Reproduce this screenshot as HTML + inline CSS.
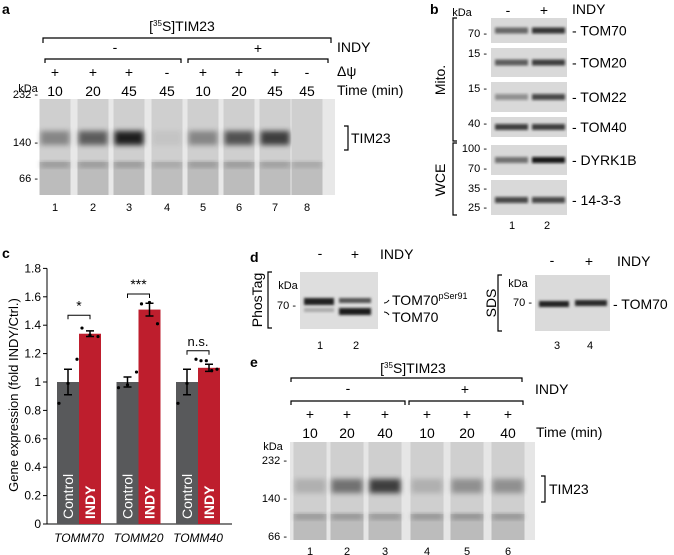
<!DOCTYPE html>
<html><head><meta charset="utf-8"><style>
html,body{margin:0;padding:0;background:#fff;}
svg{display:block;font-family:"Liberation Sans",Arial,sans-serif;}
</style></head><body>
<svg id="fig" width="674" height="555" viewBox="0 0 674 555">
<defs>
<filter id="bl" x="-20%" y="-50%" width="140%" height="200%"><feGaussianBlur stdDeviation="2.6"/></filter>
<filter id="bl2" x="-20%" y="-50%" width="140%" height="200%"><feGaussianBlur stdDeviation="1.3"/></filter>
</defs>
<g id="panelA">
<text x="2" y="14" font-weight="bold" font-size="14">a</text>
<text x="182" y="31" text-anchor="middle" font-size="14">[<tspan font-size="8" dy="-5">35</tspan><tspan dy="5">S]TIM23</tspan></text>
<path d="M43,43 V38 H331 V43" fill="none" stroke="#000" stroke-width="1.2"/>
<path d="M45,63 V59 H181 V63 M188,63 V59 H328 V63" fill="none" stroke="#000" stroke-width="1.2"/>
<text x="115" y="52" text-anchor="middle" font-size="14">-</text>
<text x="258" y="53" text-anchor="middle" font-size="14">+</text>
<text x="337" y="52" font-size="14">INDY</text>
<text x="337" y="76" font-size="14">Δψ</text>
<text x="337" y="95" font-size="14">Time (min)</text>
<g id="aTop" font-size="14" text-anchor="middle"></g>
<text x="28" y="92" text-anchor="middle" font-size="11">kDa</text>
<text x="38" y="98" text-anchor="end" font-size="11">232 -</text>
<text x="38" y="146" text-anchor="end" font-size="11">140 -</text>
<text x="38" y="182" text-anchor="end" font-size="11">66 -</text>
<rect x="42" y="99" width="293" height="96" fill="#e8e8e8"/>
<g id="aGel"></g>
<path d="M344,126 H348 V150 H344" fill="none" stroke="#000" stroke-width="1.2"/>
<text x="351" y="143" font-size="14">TIM23</text>
</g>
<g id="panelB">
<text x="430" y="14" font-weight="bold" font-size="14">b</text>
<text x="462" y="16" text-anchor="middle" font-size="11">kDa</text>
<text x="508" y="15" text-anchor="middle" font-size="14">-</text>
<text x="544" y="15" text-anchor="middle" font-size="14">+</text>
<text x="572" y="14" font-size="14">INDY</text>
<g id="bBlots"></g>
<path d="M457,18 H453 V141 H457 M457,143 H453 V215 H457" fill="none" stroke="#000" stroke-width="1.2"/>
<text transform="translate(445,80) rotate(-90)" text-anchor="middle" font-size="14">Mito.</text>
<text transform="translate(445,180) rotate(-90)" text-anchor="middle" font-size="14">WCE</text>
<text x="512" y="229" text-anchor="middle" font-size="11">1</text>
<text x="547" y="229" text-anchor="middle" font-size="11">2</text>
</g>
<g id="panelC">
<text x="2" y="258" font-weight="bold" font-size="14">c</text>
<text transform="translate(18,395) rotate(-90)" text-anchor="middle" font-size="13">Gene expression (fold INDY/Ctrl.)</text>
<g id="chart"></g>
</g>
<g id="panelD">
<text x="250" y="262" font-weight="bold" font-size="14">d</text>
<text x="320" y="258" text-anchor="middle" font-size="14">-</text>
<text x="355" y="259" text-anchor="middle" font-size="14">+</text>
<text x="380" y="259" font-size="14">INDY</text>
<text transform="translate(262,300) rotate(-90)" text-anchor="middle" font-size="14">PhosTag</text>
<path d="M272,272 H268 V328 H272" fill="none" stroke="#000" stroke-width="1.2"/>
<text x="288" y="289" text-anchor="middle" font-size="11">kDa</text>
<text x="296" y="309" text-anchor="end" font-size="11">70 -</text>
<rect x="300" y="272" width="78" height="57" fill="#dedede"/>
<rect x="304" y="298" width="30" height="7" fill="#222" filter="url(#bl2)"/>
<rect x="304" y="308" width="30" height="4" fill="#aaa" filter="url(#bl2)"/>
<rect x="339" y="298" width="32" height="5" fill="#555" filter="url(#bl2)"/>
<rect x="339" y="308" width="32" height="7" fill="#1a1a1a" filter="url(#bl2)"/>
<path d="M384,303 q3,0 5,-3 M384,312 q3,0 5,3" fill="none" stroke="#000"/>
<text x="392" y="305" font-size="14">TOM70<tspan font-size="9" dy="-6">pSer91</tspan></text>
<text x="392" y="322" font-size="14">TOM70</text>
<text x="320" y="349" text-anchor="middle" font-size="11">1</text>
<text x="356" y="349" text-anchor="middle" font-size="11">2</text>
<text x="552" y="265" text-anchor="middle" font-size="14">-</text>
<text x="589" y="266" text-anchor="middle" font-size="14">+</text>
<text x="617" y="266" font-size="14">INDY</text>
<text transform="translate(496,303) rotate(-90)" text-anchor="middle" font-size="14">SDS</text>
<path d="M502,275 H498 V331 H502" fill="none" stroke="#000" stroke-width="1.2"/>
<text x="518" y="287" text-anchor="middle" font-size="11">kDa</text>
<text x="532" y="306" text-anchor="end" font-size="11">70 -</text>
<rect x="535" y="275" width="75" height="56" fill="#dadada"/>
<rect x="539" y="301" width="30" height="6" fill="#222" filter="url(#bl2)"/>
<rect x="575" y="300" width="32" height="6" fill="#2a2a2a" filter="url(#bl2)"/>
<text x="613" y="309" font-size="14">- TOM70</text>
<text x="557" y="349" text-anchor="middle" font-size="11">3</text>
<text x="590" y="349" text-anchor="middle" font-size="11">4</text>
</g>
<g id="panelE">
<text x="250" y="367" font-weight="bold" font-size="14">e</text>
<text x="413" y="373" text-anchor="middle" font-size="14">[<tspan font-size="8" dy="-5">35</tspan><tspan dy="5">S]TIM23</tspan></text>
<path d="M291,382 V378 H522 V382" fill="none" stroke="#000" stroke-width="1.2"/>
<path d="M291,405 V401 H405 V405 M409,405 V401 H523 V405" fill="none" stroke="#000" stroke-width="1.2"/>
<text x="348" y="393" text-anchor="middle" font-size="14">-</text>
<text x="465" y="394" text-anchor="middle" font-size="14">+</text>
<text x="535" y="394" font-size="14">INDY</text>
<text x="536" y="437" font-size="14">Time (min)</text>
<g id="eTop" font-size="14" text-anchor="middle"></g>
<text x="273" y="450" text-anchor="middle" font-size="11">kDa</text>
<text x="287" y="464" text-anchor="end" font-size="11">232 -</text>
<text x="287" y="502" text-anchor="end" font-size="11">140 -</text>
<text x="287" y="540" text-anchor="end" font-size="11">66 -</text>
<rect x="290" y="442" width="245" height="98" fill="#e6e6e6"/>
<g id="eGel"></g>
<path d="M541,476 H545 V502 H541" fill="none" stroke="#000" stroke-width="1.2"/>
<text x="549" y="494" font-size="14">TIM23</text>
</g>
</svg>
<script>
// ---- chart data (panel c) ----
const genes = ["TOMM70","TOMM20","TOMM40"];
const ctrlMeans = [1,1,1];
const indyMeans = [1.34,1.51,1.10];
const ctrlErr = [0.09,0.035,0.09];
const indyErr = [0.02,0.045,0.025];
const ctrlPoints = [[0.85,0.99,1.16],[0.96,0.98,1.07],[0.85,0.99,1.16]];
const indyPoints = [[1.38,1.33,1.32],[1.55,1.56,1.41],[1.15,1.15,1.08,1.09]];
const sigLabels = ["*","***","n.s."];
const sigLevels = [1.47,1.62,1.22];
const yTicks = [0,0.2,0.4,0.6,0.8,1,1.2,1.4,1.6,1.8];
const yTickLabels = ["0","0.2","0.4","0.6","0.8","1","1.2","1.4","1.6","1.8"];

const NS="http://www.w3.org/2000/svg";
function mk(tag,attrs,parent,txt){const e=document.createElementNS(NS,tag);for(const k in attrs)e.setAttribute(k,attrs[k]);if(txt!==undefined)e.textContent=txt;parent.appendChild(e);return e;}
const Y0=524, YS=142;
function yScale(v){return Y0-v*YS;}
const X0=47, firstC=79;
function xCenter(i){return firstC+i*((198-79)/2);}
const bw=22;
const ch=document.getElementById('chart');
const ax=mk('line',{x1:X0,y1:yScale(0),x2:232,y2:yScale(0),stroke:'#000','stroke-width':1},ch);


const ay=mk('line',{x1:X0,y1:yScale(0),x2:X0,y2:yScale(1.8),stroke:'#000','stroke-width':1},ch);


yTicks.forEach((t,i)=>{
  mk('line',{x1:X0-4,y1:yScale(t),x2:X0,y2:yScale(t),stroke:'#000'},ch);
  const tl=mk('text',{x:X0-6,y:yScale(t)+4,'text-anchor':'end','font-size':12},ch,yTickLabels[i]);
  
  
});
genes.forEach((g,i)=>{
  const c=xCenter(i);
  const b1=mk('rect',{x:c-bw,y:yScale(ctrlMeans[i]),width:bw,height:yScale(0)-yScale(ctrlMeans[i]),fill:'#58595b'},ch);
  
  
  const b2=mk('rect',{x:c,y:yScale(indyMeans[i]),width:bw,height:yScale(0)-yScale(indyMeans[i]),fill:'#be1e2d'},ch);
  
  
  [[c-bw/2,ctrlMeans[i],ctrlErr[i]],[c+bw/2,indyMeans[i],indyErr[i]]].forEach(([x,m,e])=>{
    const p=mk('path',{d:`M${x-4},${yScale(m+e)}H${x+4}M${x},${yScale(m+e)}V${yScale(m-e)}M${x-4},${yScale(m-e)}H${x+4}`,stroke:'#000','stroke-width':1.5,fill:'none'},ch);
    
    
  });
  const cp=ctrlPoints[i];
  cp.forEach((v,j)=>{const d=mk('circle',{cx:c-bw+2+j*9,cy:yScale(v),r:1.6,fill:'#000'},ch);
    
    });
  const ip=indyPoints[i];
  ip.forEach((v,j)=>{const d=mk('circle',{cx:c+3+j*(16/(ip.length-1)),cy:yScale(v),r:1.6,fill:'#000'},ch);
    
    });
  const sy=yScale(sigLevels[i]);
  mk('path',{d:`M${c-bw/2},${sy+4}V${sy}H${c+bw/2}V${sy+4}`,stroke:'#000',fill:'none','stroke-width':1},ch);
  const st=mk('text',{x:c,y:sy-5,'text-anchor':'middle','font-size':sigLabels[i]==='n.s.'?13:14},ch,sigLabels[i]);
  
  
  const t1=mk('text',{transform:`translate(${c-bw/2+5},${yScale(0)-5}) rotate(-90)`,fill:'#fff','font-size':14},ch,'Control');
  
  
  const t2=mk('text',{transform:`translate(${c+bw/2+5},${yScale(0)-5}) rotate(-90)`,fill:'#fff','font-size':14,'font-weight':'bold'},ch,'INDY');
  
  
  const gl=mk('text',{x:c,y:542,'text-anchor':'middle','font-size':12,'font-style':'italic'},ch,g);
  
  
});

// ---- gels ----
const aLanes=[55,93,129,167,203,239,275,307];
const aPsi=["+","+","+","-","+","+","+","-"];
const aTime=["10","20","45","45","10","20","45","45"];
const aUpper=[0.35,0.55,0.85,0.05,0.35,0.6,0.7,0.0];
const aLower=[0.45,0.45,0.45,0.3,0.45,0.45,0.4,0.3];
const eLanes=[310,347,385,427,467,508];
const eTime=["10","20","40","10","20","40"];
const eUpper=[0.15,0.45,0.7,0.15,0.3,0.3];
const eLower=[0.45,0.5,0.45,0.5,0.55,0.5];
function gel(gid,tid,lanes,top,bot,up,lo,upY,loY,lw,psi,times,psiY,timeY,numY){
  const g=document.getElementById(gid), t=document.getElementById(tid);
  lanes.forEach((x,i)=>{
    mk('rect',{x:x-lw/2,y:top,width:lw,height:bot-top,fill:'#cfcfcf'},g);
    mk('rect',{x:x-lw/2,y:loY-3,width:lw,height:bot-loY+3,fill:'#b5b5b5',opacity:0.5+lo[i]*0.5},g);
    const b=mk('rect',{x:x-lw/2+1,y:upY-7,width:lw-2,height:14,fill:'#000',opacity:up[i],filter:'url(#bl)'},g);
    
    
    mk('rect',{x:x-lw/2+1,y:loY-3,width:lw-2,height:5,fill:'#444',opacity:lo[i]*0.8,filter:'url(#bl)'},g);
    mk('text',{x:x,y:psiY},t,psi?psi[i]:'+');
    mk('text',{x:x,y:timeY},t,times[i]);
    mk('text',{x:x,y:numY,'font-size':11},t,String(i+1));
  });
}
gel('aGel','aTop',aLanes,99,195,aUpper,aLower,138,165,31,aPsi,aTime,77,96,211);
gel('eGel','eTop',eLanes,442,540,eUpper,eLower,486,517,33,null,eTime,419,438,555);

// ---- panel b blots ----
const bRows=[["TOM70",18,43,[0.55,0.8]],["TOM20",48,77,[0.6,0.75]],["TOM22",82,112,[0.35,0.7]],["TOM40",117,137,[0.75,0.75]],["DYRK1B",145,175,[0.5,0.95]],["14-3-3",180,215,[0.7,0.7]]];
const bMarkers=[["70",33],["15",53],["15",88],["40",123],["100",148],["70",168],["35",188],["25",207]];
const bb=document.getElementById('bBlots');
bRows.forEach(([name,y1,y2,ints])=>{
  mk('rect',{x:491,y:y1,width:76,height:y2-y1,fill:'#d9d9d9'},bb);
  const by=(name==="DYRK1B")?160:(name==="14-3-3"?200:(y1+y2)/2);
  ints.forEach((v,j)=>{mk('rect',{x:495+j*37,y:by-3,width:33,height:6,fill:'#111',opacity:v,filter:'url(#bl2)'},bb);});
  const l=mk('text',{x:572,y:by+5,'font-size':14},bb,'- '+name);
  
  
});
bMarkers.forEach(([m,y])=>mk('text',{x:487,y:y+4,'text-anchor':'end','font-size':11},bb,m+' -'));
</script>
</body></html>
